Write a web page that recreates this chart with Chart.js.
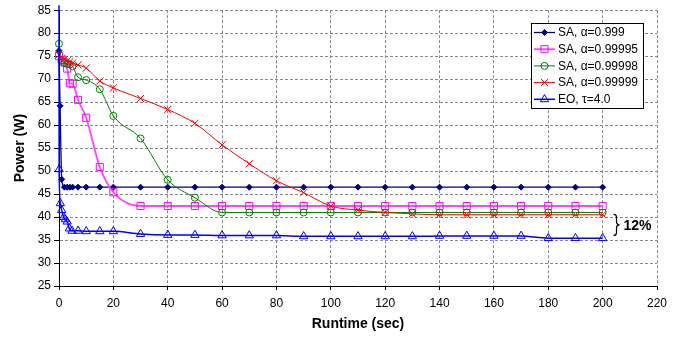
<!DOCTYPE html>
<html>
<head>
<meta charset="utf-8">
<script src="https://cdn.jsdelivr.net/npm/chart.js@4.4.1/dist/chart.umd.min.js"></script>
<style>
  html, body { margin: 0; padding: 0; background: #fff; }
  #wrap { width: 681px; height: 337px; }
</style>
</head>
<body>
<div id="wrap"><canvas id="chartPower" width="681" height="337"></canvas></div>
<script>
  "use strict";

  // Runtime samples (sec) and power readings (W) per run
  const seriesLabels = ["SA, \u03b1=0.999", "SA, \u03b1=0.99995", "SA, \u03b1=0.99998", "SA, \u03b1=0.99999", "EO, \u03c4=4.0"];

  const tSa999 = [0, 0.4, 1, 2, 3, 4, 5, 7, 10, 15, 20, 30, 40, 50, 60, 70, 80, 90, 100, 110, 120, 130, 140, 150, 160, 170, 180, 190, 200];
  const pSa999 = [76.2, 64.2, 48.2, 46.5, 46.5, 46.5, 46.5, 46.5, 46.5, 46.5, 46.5, 46.5, 46.5, 46.5, 46.5,
                  46.5, 46.5, 46.5, 46.5, 46.5, 46.5, 46.5, 46.5, 46.5, 46.5, 46.5, 46.5, 46.5, 46.5];

  const tSa = [0, 1, 2, 3, 4, 5, 7, 10, 15, 20, 30, 40, 50, 60, 70, 80, 90, 100, 110, 120, 130, 140, 150, 160, 170, 180, 190, 200];
  const pSa99995 = [75.0, 74.2, 73.6, 72.3, 69.1, 69.0, 65.5, 61.6, 50.9, 45.4, 42.4, 42.4, 42.4, 42.4,
                    42.4, 42.4, 42.4, 42.4, 42.4, 42.4, 42.4, 42.4, 42.4, 42.4, 42.4, 42.4, 42.4, 42.4];
  const pSa99998 = [77.7, 74.0, 73.5, 73.3, 73.2, 72.8, 70.4, 69.8, 67.8, 62.0, 57.1, 48.1, 44.2, 41.0,
                    41.0, 41.0, 41.0, 41.0, 41.0, 41.0, 41.0, 41.0, 41.0, 41.0, 41.0, 41.0, 41.0, 41.0];
  const pSa99999 = [75.3, 74.5, 74.3, 74.0, 73.8, 73.5, 73.1, 72.4, 69.6, 68.1, 65.8, 63.4, 60.4, 55.7,
                    51.6, 47.9, 45.3, 42.4, 41.5, 41.0, 40.7, 40.5, 40.5, 40.5, 40.5, 40.5, 40.5, 40.5];

  const tEo = [0, 0.05, 0.5, 1, 1.7, 2.3, 3, 3.8, 4.8, 7, 10, 15, 20, 30, 40, 50, 60, 70, 80, 90, 100, 110, 120, 130, 140, 150, 160, 170, 180, 190, 200];
  const pEo = [95, 50.4, 43.0, 41.5, 40.0, 39.5, 39.0, 37.5, 37.0, 37.0, 36.9, 36.9, 36.9, 36.3, 36.1, 36.1,
               36.0, 36.0, 36.0, 35.8, 35.8, 35.8, 35.8, 35.8, 35.9, 35.9, 35.9, 35.9, 35.4, 35.4, 35.4];

  // gap bracket between best SA and EO
  const gapTop = 40.6, gapBottom = 36.0, gapAt = 204, gapLabel = "12%";

  const FONT = "'Liberation Sans', Arial, sans-serif";

  const pts = (ts, ps) => ts.map((t, i) => ({ x: t, y: ps[i] }));

  function series(label, data, o) {
    return Object.assign({
      label, data,
      showLine: true,
      cubicInterpolationMode: "monotone",
      pointBackgroundColor: "rgba(255,255,255,0)",
      pointBorderWidth: 1,
      pointHoverRadius: 0,
      clip: { left: 8, right: 8, top: 5, bottom: 8 }
    }, o);
  }

  const datasets = [
    series(seriesLabels[0], pts(tSa999, pSa999), {
      borderColor: "#000080", borderWidth: 1.3, pointStyle: "rectRot", pointRadius: 3,
      pointBorderColor: "#000080", pointBackgroundColor: "#000080", order: 5
    }),
    series(seriesLabels[1], pts(tSa, pSa99995), {
      borderColor: "#ff44ff", borderWidth: 1.8, pointStyle: "rect", pointRadius: 5,
      pointBorderColor: "#ff00ff", order: 4
    }),
    series(seriesLabels[2], pts(tSa, pSa99998), {
      borderColor: "#008000", borderWidth: 1, pointStyle: "circle", pointRadius: 3.5,
      pointBorderColor: "#008000", order: 3
    }),
    series(seriesLabels[3], pts(tSa, pSa99999), {
      borderColor: "#ff0000", borderWidth: 1, pointStyle: "crossRot", pointRadius: 5,
      pointBorderColor: "#ff0000", order: 2
    }),
    series(seriesLabels[4], pts(tEo, pEo), {
      borderColor: "#0000ff", borderWidth: 1.5, pointStyle: "triangle", pointRadius: 4.8,
      pointBorderColor: "#0000ff", order: 1
    })
  ];

  const boxLegend = {
    id: "boxLegend",
    afterDraw(chart) {
      const ctx = chart.ctx;
      const x0 = 531, y0 = 23, w = 112, h = 85;
      ctx.save();
      ctx.fillStyle = "#fff";
      ctx.fillRect(x0, y0, w, h);
      ctx.strokeStyle = "#000";
      ctx.lineWidth = 1;
      ctx.strokeRect(x0 + 0.5, y0 + 0.5, w, h);
      chart.data.datasets.forEach((ds, i) => {
        const cy = y0 + 9.5 + i * 16.7;
        ctx.strokeStyle = ds.borderColor;
        ctx.lineWidth = ds.borderWidth;
        ctx.beginPath();
        ctx.moveTo(x0 + 3, cy);
        ctx.lineTo(x0 + 24, cy);
        ctx.stroke();
        ctx.strokeStyle = ds.pointBorderColor;
        ctx.fillStyle = ds.pointBackgroundColor;
        ctx.lineWidth = 1;
        Chart.helpers.drawPoint(ctx, {
          pointStyle: ds.pointStyle, radius: ds.pointRadius, rotation: 0, borderWidth: 1
        }, x0 + 13.5, cy);
        ctx.fillStyle = "#000";
        ctx.font = "12px " + FONT;
        ctx.textAlign = "left";
        ctx.textBaseline = "middle";
        ctx.fillText(ds.label, x0 + 27, cy + 0.5);
      });
      ctx.restore();
    }
  };

  const gapBrace = {
    id: "gapBrace",
    afterDatasetsDraw(chart) {
      const { ctx, scales: { x, y } } = chart;
      const bx = x.getPixelForValue(gapAt);
      const y1 = y.getPixelForValue(gapTop);
      const y2 = y.getPixelForValue(gapBottom);
      const mid = (y1 + y2) / 2;
      ctx.save();
      ctx.strokeStyle = "#000";
      ctx.lineWidth = 1.2;
      ctx.beginPath();
      ctx.moveTo(bx, y1);
      ctx.quadraticCurveTo(bx + 3, y1, bx + 3, y1 + 3);
      ctx.lineTo(bx + 3, mid - 3);
      ctx.quadraticCurveTo(bx + 3, mid, bx + 6, mid);
      ctx.quadraticCurveTo(bx + 3, mid, bx + 3, mid + 3);
      ctx.lineTo(bx + 3, y2 - 3);
      ctx.quadraticCurveTo(bx + 3, y2, bx, y2);
      ctx.stroke();
      ctx.fillStyle = "#000";
      ctx.font = "bold 14px " + FONT;
      ctx.textAlign = "left";
      ctx.textBaseline = "middle";
      ctx.fillText(gapLabel, bx + 10, mid + 1);
      ctx.restore();
    }
  };

  const gridOpts = { color: "#888", lineWidth: 1, tickColor: "#000", drawTicks: true };

  new Chart(document.getElementById("chartPower"), {
    type: "scatter",
    data: { datasets },
    options: {
      responsive: false,
      animation: false,
      events: [],
      layout: { padding: { left: 0, right: 24, top: 10, bottom: 0 } },
      plugins: { legend: { display: false }, tooltip: { enabled: false } },
      scales: {
        x: {
          type: "linear", min: 0, max: 220,
          ticks: { stepSize: 20, color: "#000", font: { size: 12, family: FONT }, padding: 6, maxRotation: 0, autoSkip: false },
          grid: Object.assign({ tickLength: 4 }, gridOpts),
          border: { display: true, color: "#000", width: 1, dash: [3, 2] },
          title: { display: true, text: "Runtime (sec)", color: "#000", font: { size: 14, weight: "bold", family: FONT }, padding: { top: 0, bottom: 4 } },
          afterFit: (s) => { s.height = 51; }
        },
        y: {
          min: 25, max: 85,
          ticks: { stepSize: 5, color: "#000", font: { size: 12, family: FONT }, padding: 3 },
          grid: Object.assign({ tickLength: 5 }, gridOpts),
          border: { display: true, color: "#000", width: 1, dash: [3, 2] },
          title: { display: true, text: "Power (W)", color: "#000", font: { size: 14, weight: "bold", family: FONT }, padding: { top: 12, bottom: 0 } },
          afterFit: (s) => { s.width = 59; }
        }
      }
    },
    plugins: [gapBrace, boxLegend]
  });
</script>
</body>
</html>
